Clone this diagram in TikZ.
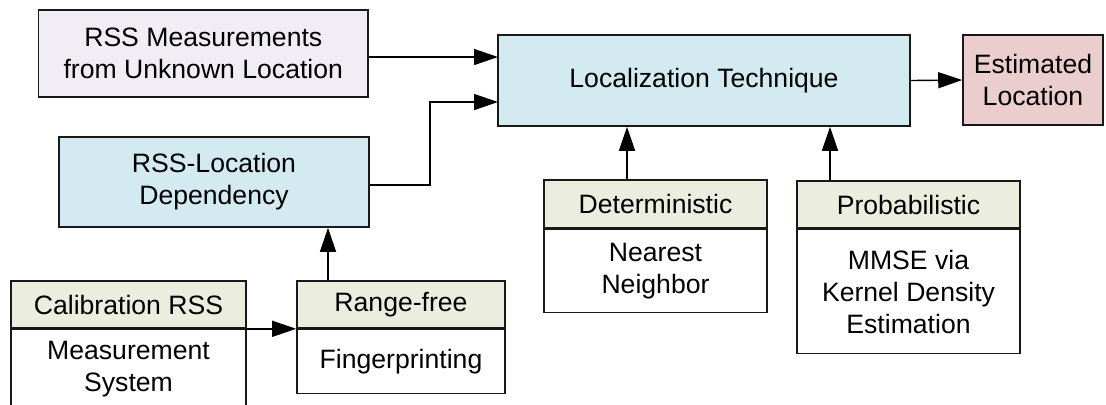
\documentclass[tikz,border=0pt]{standalone}
\usepackage{fontspec}
\setmainfont{Liberation Sans}
\usetikzlibrary{arrows.meta,calc}
\definecolor{measfill}{RGB}{240,238,244}
\definecolor{blockblue}{RGB}{210,234,240}
\definecolor{estfill}{RGB}{236,205,205}
\definecolor{headfill}{RGB}{235,238,222}
\begin{document}
\begin{tikzpicture}[x=0.5pt,y=-0.5pt,
  box/.style={draw=black!90, line width=0.8pt, inner sep=0pt, align=center,
    font=\fontsize{13.3}{16}\selectfont},
  px/.style 2 args={minimum width={#1*0.5pt}, minimum height={#2*0.5pt}},
  arr/.style={-{Triangle[length=12pt,width=8pt]}, line width=0.7pt}]
\useasboundingbox (0,0) rectangle (1106,404);
\clip (0,0) rectangle (1106,404);

% main blocks
\node[box, fill=measfill, px={329.4}{87}] (meas) at (203.3,53.5) {RSS Measurements\\from Unknown Location};
\node[box, fill=blockblue, px={310}{90}] (rssloc) at (214,182) {RSS-Location\\Dependency};
\node[box, fill=blockblue, px={412}{91}] (loc) at (704,80.5) {Localization Technique};
\node[box, fill=estfill, px={140}{90}] (est) at (1033,80) {Estimated\\Location};

% two-part blocks: header + body
\node[box, fill=headfill, px={223}{48}] (detH) at (655.5,204) {Deterministic};
\node[box, fill=white, px={223}{83}, anchor=north] (detB) at (detH.south) {Nearest\\Neighbor};
\node[box, fill=headfill, px={223}{47}] (probH) at (908.5,204.5) {Probabilistic};
\node[box, fill=white, px={223}{124}, anchor=north] (probB) at (probH.south) {MMSE via\\Kernel Density\\Estimation};
\node[box, fill=headfill, px={235}{47}] (calH) at (128.5,304.5) {Calibration RSS};
\node[box, fill=white, px={235}{78}, anchor=north] (calB) at (calH.south) {Measurement\\System};
\node[box, fill=headfill, px={208}{47}] (rfH) at (401,304.5) {Range-free};
\node[box, fill=white, px={208}{64}, anchor=north] (rfB) at (rfH.south) {Fingerprinting};

% connector helpers
\coordinate (in1) at (498,57);
\coordinate (in2) at (498,102);
\coordinate (bend) at (430,185);
\coordinate (tapD) at (627,0);
\coordinate (tapP) at (830,0);
\coordinate (tapR) at (328,0);

% connectors
\draw[arr] (meas.east |- in1) -- (in1);
\draw[arr] (rssloc.east |- bend) -- (bend) |- (in2);
\draw[arr] (loc.east) -- (est.west);
\draw[arr] (detH.north -| tapD) -- (loc.south -| tapD);
\draw[arr] (probH.north -| tapP) -- (loc.south -| tapP);
\draw[arr] (rfH.north -| tapR) -- (rssloc.south -| tapR);
\draw[arr] (calB.north east) -- (calB.north east -| rfB.west);
\end{tikzpicture}
\end{document}
